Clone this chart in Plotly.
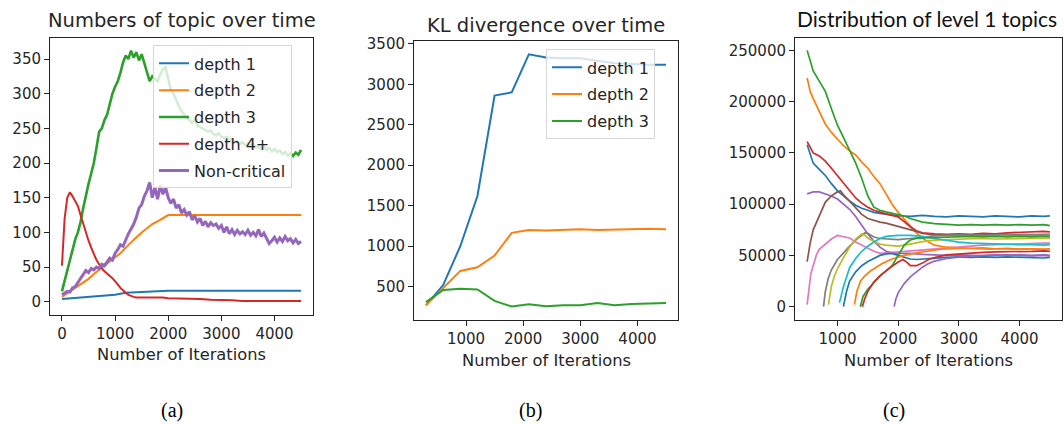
import plotly.graph_objects as go

W, H = 1064, 424

# ---------------- Panel (a): Numbers of topic over time ----------------
a_x50 = list(range(0, 4501, 50))
depth3_a = [15, 30, 45, 62, 75, 90, 100, 115, 135, 155, 170, 185, 200, 222, 245, 250, 262, 270, 285, 300,
            310, 318, 330, 345, 355, 350, 362, 352, 360, 348, 357, 345, 330, 318, 325, 322, 318, 328, 335, 338,
            322, 305, 300, 290, 282, 275, 270, 265, 262, 258, 262, 255, 252, 250, 248, 245, 247, 242, 240, 243,
            238, 236, 238, 233, 235, 230, 232, 228, 230, 226, 228, 224, 227, 222, 225, 220, 224, 219, 222, 217,
            220, 216, 218, 213, 216, 211, 214, 210, 215, 212, 219]
noncrit_a = [10, 12, 15, 14, 20, 22, 28, 35, 40, 45, 42, 48, 46, 50, 48, 54, 52, 58, 63, 60,
             70, 75, 82, 80, 90, 98, 105, 112, 122, 135, 140, 152, 160, 172, 150, 165, 148, 168, 155, 165,
             150, 142, 148, 135, 140, 128, 133, 125, 130, 118, 124, 115, 120, 110, 116, 108, 114, 110, 112, 106,
             110, 100, 108, 98, 104, 97, 103, 98, 101, 97, 103, 96, 100, 95, 104, 94, 99, 92, 84, 88,
             93, 86, 92, 87, 94, 88, 91, 85, 90, 84, 87]
depth4_x = [0, 50, 100, 150, 200, 250, 300, 350, 400, 450, 500, 550, 600, 650, 700, 750, 800, 850, 900, 950,
            1000, 1050, 1100, 1150, 1200, 1250, 1300, 1350, 1400, 1450, 1500, 1600, 1700, 1800, 1900, 2000,
            2200, 2400, 2600, 2800, 3000, 3200, 3400, 3600, 3800, 4000, 4200, 4500]
depth4_a = [52, 120, 150, 158, 152, 145, 138, 125, 112, 98, 88, 78, 68, 60, 54, 48, 44, 40, 37, 34,
            30, 25, 20, 16, 13, 10, 8, 7, 6, 6, 7, 7, 7, 6, 6, 5,
            5, 4, 4, 3, 3, 2, 1, 1, 1, 1, 1, 1]
depth1_x = [0, 200, 400, 600, 800, 1000, 1200, 1400, 1600, 1800, 2000, 4500]
depth1_a = [4, 5, 6, 7, 9, 10, 13, 14, 15, 15, 16, 16]
depth2_x = [0, 100, 200, 300, 400, 500, 600, 700, 800, 900, 1000, 1100, 1200, 1300, 1400, 1500, 1600,
            1700, 1800, 1900, 2000, 2100, 4500]
depth2_a = [7, 12, 17, 22, 28, 33, 40, 46, 53, 58, 64, 70, 78, 86, 93, 100, 106, 112, 116, 121, 125, 125, 125]

# ---------------- Panel (b): KL divergence over time ----------------
b_x = [300, 600, 900, 1200, 1500, 1800, 2100, 2400, 2700, 3000, 3300, 3600, 3900, 4200, 4500]
kl_depth1 = [270, 520, 1000, 1620, 2860, 2900, 3370, 3330, 3320, 3320, 3290, 3260, 3250, 3240, 3240]
kl_depth2 = [270, 480, 695, 740, 885, 1165, 1200, 1195, 1200, 1210, 1200, 1205, 1210, 1215, 1210]
kl_depth3 = [310, 460, 476, 465, 325, 255, 282, 258, 272, 272, 298, 272, 287, 292, 300]

# ---------------- Panel (c): Distribution of level 1 topics ----------------
c1_t = [500, 550, 600, 700, 800, 900, 1000, 1100, 1200, 1300, 1400, 1500, 1600, 1700, 1800, 1900, 2000,
        2200, 2400, 2600, 2800, 3000, 3200, 3400, 3600, 3800, 4000, 4200, 4400, 4500]
c1_v = [158000, 148000, 140000, 134000, 128000, 120000, 113000, 108000, 103000, 99000, 96000, 94000, 92000,
        91000, 90000, 89000, 88500, 88000, 89000, 88000, 87500, 88500, 88000, 87500, 88500, 88000, 87500,
        88500, 88000, 88500]
c2_t = [500, 550, 600, 700, 800, 900, 1000, 1100, 1200, 1300, 1400, 1500, 1600, 1700, 1800, 1900, 2000,
        2100, 2200, 2300, 2400, 2500, 2600, 2700, 2800, 3000, 3200, 3400, 3600, 3800, 4000, 4200, 4400, 4500]
c2_v = [223000, 210000, 203000, 190000, 178000, 170000, 163000, 157000, 152000, 148000, 141000, 135000,
        127000, 120000, 110000, 100000, 92000, 85000, 78000, 72000, 67000, 63000, 60000, 59000, 58000, 57500,
        57000, 57500, 56500, 57000, 56000, 56500, 56000, 56500]
c3_t = [500, 550, 600, 700, 800, 900, 1000, 1100, 1200, 1300, 1400, 1500, 1600, 1700, 1800, 1900, 2000,
        2100, 2200, 2300, 2400, 2600, 2800, 3000, 3200, 3400, 3600, 3800, 4000, 4200, 4400, 4500]
c3_v = [250000, 240000, 230000, 220000, 210000, 193000, 177000, 165000, 153000, 140000, 125000, 108000,
        97000, 94000, 92500, 91000, 90000, 88500, 86000, 84000, 82500, 81000, 80000, 79500, 80000, 79500,
        80000, 79500, 80000, 79500, 80000, 79000]
c4_t = [500, 550, 600, 700, 800, 900, 1000, 1100, 1200, 1300, 1400, 1500, 1600, 1700, 1800, 1900, 2000,
        2100, 2200, 2300, 2400, 2600, 2800, 3000, 3200, 3400, 3600, 3800, 4000, 4200, 4400, 4500]
c4_v = [161000, 155000, 150000, 147000, 142000, 135000, 128000, 121000, 113000, 106000, 101000, 97000,
        94000, 92000, 90500, 89000, 87500, 83000, 78000, 74000, 72000, 71000, 70500, 71000, 70500, 71500,
        71000, 72000, 72500, 73000, 73500, 73000]
c5_t = [500, 600, 700, 800, 900, 1000, 1100, 1200, 1300, 1400, 1500, 1600, 1700, 1800, 1900, 2000, 2200,
        2400, 2600, 2800, 3000, 3200, 3400, 3600, 3800, 4000, 4200, 4400, 4500]
c5_v = [110000, 112000, 112000, 110000, 108000, 105000, 100000, 95000, 88000, 79000, 71000, 64000, 58000,
        54000, 52500, 52000, 52000, 51000, 50500, 50000, 50500, 50000, 49500, 50000, 50500, 50000, 49500,
        50000, 49500]
c6_t = [500, 550, 600, 700, 800, 900, 1000, 1050, 1100, 1200, 1300, 1400, 1500, 1600, 1700, 1800, 1900,
        2000, 2100, 2200, 2300, 2400, 2600, 2800, 3000, 3300, 3600, 3900, 4200, 4500]
c6_v = [44000, 62000, 75000, 88000, 102000, 108000, 112000, 113000, 109000, 103000, 96000, 90000, 86000,
        84000, 82500, 81500, 80000, 78000, 76500, 75000, 73500, 71500, 70000, 69500, 70000, 69500, 70500,
        70000, 70500, 70500]
c7_t = [500, 530, 560, 600, 650, 700, 800, 900, 1000, 1100, 1200, 1300, 1400, 1500, 1600, 1700, 1800,
        2000, 2200, 2400, 2600, 2800, 3000, 3200, 3400, 3600, 3800, 4000, 4200, 4400, 4500]
c7_v = [2000, 20000, 32000, 40000, 50000, 56000, 61000, 66000, 69500, 68500, 67000, 63000, 60000, 57000,
        54000, 52000, 52500, 53500, 54500, 55500, 56500, 57500, 58500, 59500, 60000, 60500, 61000, 61500,
        61500, 62000, 62000]
c8_t = [770, 800, 850, 900, 1000, 1100, 1200, 1300, 1400, 1450, 1500, 1600, 1700, 1800, 2000, 2200, 2400,
        2600, 2800, 3000, 3300, 3600, 3900, 4200, 4500]
c8_v = [0, 15000, 28000, 36000, 46000, 53000, 59000, 65000, 70000, 72000, 71500, 68000, 66500, 66000,
        65500, 66500, 68000, 69000, 69500, 70000, 69500, 70000, 70500, 70000, 70000]
c9_t = [852, 900, 950, 1000, 1100, 1200, 1300, 1400, 1450, 1500, 1600, 1700, 1800, 2000, 2200, 2400, 2600,
        2800, 3000, 3300, 3600, 3900, 4200, 4500]
c9_v = [2000, 20000, 30000, 37000, 48000, 58000, 66000, 71000, 70000, 67000, 63500, 61000, 60000, 59000,
        61000, 63500, 65000, 65500, 66000, 66500, 66000, 66500, 66500, 66500]
c10_t = [1033, 1100, 1200, 1300, 1400, 1500, 1600, 1700, 1800, 2000, 2200, 2400, 2600, 2800, 3000, 3200,
         3400, 3600, 3800, 4000, 4200, 4400, 4500]
c10_v = [4000, 20000, 38000, 47000, 54000, 59000, 63000, 66500, 68500, 69500, 69500, 68500, 66500, 64500,
         63000, 62000, 61500, 61000, 61000, 60500, 60500, 60000, 60500]
c11_t = [1098, 1150, 1200, 1300, 1400, 1500, 1600, 1700, 1800, 1900, 2000, 2100, 2200, 2300, 2400, 2600,
         2800, 3000, 3200, 3400, 3600, 3800, 4000, 4200, 4400, 4500]
c11_v = [0, 15000, 25000, 34000, 40000, 44000, 47000, 50000, 51500, 52000, 50000, 48000, 46500, 46000,
         46500, 47500, 48000, 48500, 48000, 48500, 48000, 48500, 48000, 48000, 47500, 48000]
c12_t = [1279, 1320, 1380, 1450, 1550, 1650, 1750, 1900, 2100, 2300, 2500, 2700, 2900, 3100, 3300, 3500,
         3700, 3900, 4100, 4300, 4500]
c12_v = [2000, 15000, 25000, 30000, 35000, 39000, 42500, 46500, 50000, 52500, 54500, 56000, 56500, 57000,
         56500, 56000, 56500, 56000, 56500, 56000, 56000]
c13_t = [1377, 1420, 1500, 1600, 1700, 1800, 1900, 2000, 2100, 2200, 2300, 2400, 2600, 2800, 3000, 3200,
         3400, 3600, 3800, 4000, 4200, 4400, 4500]
c13_v = [0, 10000, 17000, 24000, 30000, 35000, 40000, 50000, 60000, 65000, 66500, 67000, 67500, 68000,
         68000, 68500, 68000, 68500, 68000, 68500, 68000, 68500, 68000]
c14_t = [1410, 1450, 1500, 1600, 1700, 1800, 1900, 2000, 2080, 2150, 2200, 2300, 2400, 2500, 2600, 2800,
         3000, 3200, 3400, 3600, 3800, 4000, 4200, 4400, 4500]
c14_v = [0, 8000, 15000, 24000, 30000, 35000, 39500, 43500, 46000, 43000, 40000, 40000, 42500, 46000,
         48000, 50500, 51500, 52500, 53000, 53500, 53500, 54000, 54000, 54500, 54000]
c15_t = [1934, 1960, 2000, 2100, 2200, 2300, 2400, 2500, 2600, 2800, 3000, 3200, 3400, 3600, 3800, 4000,
         4200, 4400, 4500]
c15_v = [0, 7000, 13500, 22500, 29000, 34000, 38500, 42000, 44500, 47000, 48500, 49500, 50000, 50500,
         50000, 50500, 50000, 50500, 50000]

TAB10 = ["#1f77b4", "#ff7f0e", "#2ca02c", "#d62728", "#9467bd",
         "#8c564b", "#e377c2", "#7f7f7f", "#bcbd22", "#17becf"]

fig = go.Figure()

# Panel (a) traces
a_series = [
    ("depth 1", depth1_x, depth1_a, TAB10[0], 2),
    ("depth 2", depth2_x, depth2_a, TAB10[1], 2),
    ("depth 3", a_x50, depth3_a, TAB10[2], 2.6),
    ("depth 4+", depth4_x, depth4_a, TAB10[3], 2),
    ("Non-critical", a_x50, noncrit_a, TAB10[4], 3),
]
for i, (name, xs, ys, col, lw) in enumerate(a_series):
    fig.add_trace(go.Scatter(x=xs, y=ys, mode="lines", name=name, line=dict(color=col, width=lw),
                             xaxis="x", yaxis="y", legend="legend", legendgroup="a%d" % i))

# Panel (b) traces
for i, (name, ys) in enumerate([("depth 1", kl_depth1), ("depth 2", kl_depth2), ("depth 3", kl_depth3)]):
    fig.add_trace(go.Scatter(x=b_x, y=ys, mode="lines", name=name, line=dict(color=TAB10[i], width=2),
                             xaxis="x2", yaxis="y2", legend="legend2", legendgroup="b%d" % i))

# Panel (c) traces
c_series = [(c1_t, c1_v), (c2_t, c2_v), (c3_t, c3_v), (c4_t, c4_v), (c5_t, c5_v), (c6_t, c6_v),
            (c7_t, c7_v), (c8_t, c8_v), (c9_t, c9_v), (c10_t, c10_v), (c11_t, c11_v), (c12_t, c12_v),
            (c13_t, c13_v), (c14_t, c14_v), (c15_t, c15_v)]
for i, (ts, vs) in enumerate(c_series):
    fig.add_trace(go.Scatter(x=ts, y=vs, mode="lines", line=dict(color=TAB10[i % 10], width=1.7),
                             xaxis="x3", yaxis="y3", showlegend=False))

TICKFONT = dict(family="DejaVu Sans", size=15, color="#262626")


def axis(domain, rng, tickvals, anchor):
    return dict(domain=domain, range=rng, tickvals=tickvals, ticks="outside", ticklen=5, tickwidth=1,
                tickcolor="#222", showline=True, mirror=True, linecolor="#222", linewidth=1,
                showgrid=False, zeroline=False, tickfont=TICKFONT, anchor=anchor, fixedrange=True,
                tickformat="d")


def px(x0, x1):
    return [x0 / W, x1 / W]


def py(top, bottom):
    return [1 - bottom / H, 1 - top / H]


LEGFONT = dict(family="DejaVu Sans", size=16, color="#262626")

fig.update_layout(
    width=W, height=H, margin=dict(l=0, r=0, t=0, b=0),
    paper_bgcolor="white", plot_bgcolor="white",
    xaxis=axis(px(50, 313), [-225, 4725], [0, 1000, 2000, 3000, 4000], "y"),
    yaxis=axis(py(32, 313), [-18.5, 381], [0, 50, 100, 150, 200, 250, 300, 350], "x"),
    xaxis2=axis(px(414, 678), [90, 4710], [1000, 2000, 3000, 4000], "y2"),
    yaxis2=axis(py(36, 318), [95, 3528], [500, 1000, 1500, 2000, 2500, 3000, 3500], "x2"),
    xaxis3=axis(px(795, 1062), [300, 4700], [1000, 2000, 3000, 4000], "y3"),
    yaxis3=axis(py(32, 318), [-12500, 262500], [0, 50000, 100000, 150000, 200000, 250000], "x3"),
    legend=dict(x=153 / W, y=1 - 40 / H, xanchor="left", yanchor="top", bgcolor="rgba(255,255,255,0.8)",
                bordercolor="#d6d6d6", borderwidth=1, font=LEGFONT, tracegroupgap=3,
                traceorder="grouped", itemwidth=30),
    legend2=dict(x=546 / W, y=1 - 44 / H, xanchor="left", yanchor="top", bgcolor="rgba(255,255,255,0.8)",
                 bordercolor="#d6d6d6", borderwidth=1, font=LEGFONT, tracegroupgap=3,
                 traceorder="grouped", itemwidth=30),
    showlegend=True,
)

annots = [
    dict(text="Numbers of topic over time", x=181.5 / W, y=1 - 15 / H,
         font=dict(family="DejaVu Sans", size=19.5, color="#262626")),
    dict(text="KL divergence over time", x=546 / W, y=1 - 20 / H,
         font=dict(family="DejaVu Sans", size=19.5, color="#262626")),
    dict(text="Distribution of level 1 topics", x=927 / W, y=1 - 13 / H,
         font=dict(family="Lato", size=21, color="#111")),
    dict(text="Number of Iterations", x=181.5 / W, y=1 - 353 / H,
         font=dict(family="DejaVu Sans", size=16.3, color="#262626")),
    dict(text="Number of Iterations", x=546 / W, y=1 - 360 / H,
         font=dict(family="DejaVu Sans", size=16.3, color="#262626")),
    dict(text="Number of Iterations", x=928 / W, y=1 - 360 / H,
         font=dict(family="DejaVu Sans", size=16.3, color="#262626")),
    dict(text="(a)", x=172 / W, y=1 - 410 / H, font=dict(family="Liberation Serif", size=20, color="#000")),
    dict(text="(b)", x=530 / W, y=1 - 410 / H, font=dict(family="Liberation Serif", size=20, color="#000")),
    dict(text="(c)", x=894 / W, y=1 - 410 / H, font=dict(family="Liberation Serif", size=20, color="#000")),
]
for an in annots:
    an.update(xref="paper", yref="paper", xanchor="center", yanchor="middle", showarrow=False)
fig.update_layout(annotations=annots)

fig.write_html("out.html", config={"displayModeBar": False})
